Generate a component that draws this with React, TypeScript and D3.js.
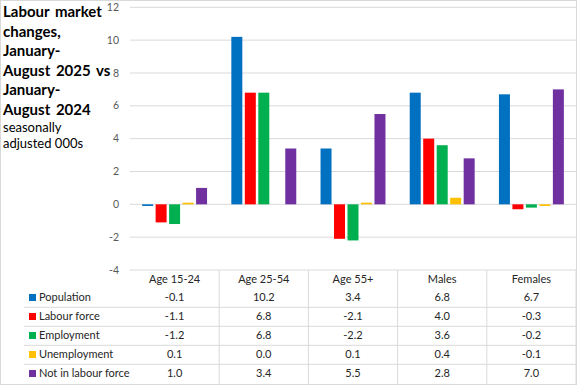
import React from "react";
import * as d3 from "d3";

// chart data
const categories = ["Age 15-24", "Age 25-54", "Age 55+", "Males", "Females"];
const seriesNames = ["Population", "Labour force", "Employment", "Unemployment", "Not in labour force"];
const population = [-0.1, 10.2, 3.4, 6.8, 6.7];
const labourForce = [-1.1, 6.8, -2.1, 4.0, -0.3];
const employment = [-1.2, 6.8, -2.2, 3.6, -0.2];
const unemployment = [0.1, 0.0, 0.1, 0.4, -0.1];
const notInLabourForce = [1.0, 3.4, 5.5, 2.8, 7.0];
const yTicks = [-4, -2, 0, 2, 4, 6, 8, 10, 12];
const titleLines = ["Labour market", "changes,", "January-", "August 2025 vs", "January-", "August 2024"];
const subtitleLines = ["seasonally", "adjusted 000s"];

const colors = ["#0070C0", "#FF0000", "#00B050", "#FFC000", "#7030A0"];
const seriesValues = [population, labourForce, employment, unemployment, notInLabourForce];

const W = 577;
const H = 385;
const FONT = "Lato, 'Liberation Sans', sans-serif";
const GRID = "#d9d9d9";

export default function App() {
  const left = 130;
  const right = 576;
  const top = 7.3;
  const bottom = 270;

  const x0 = d3.scaleBand<string>().domain(categories).range([left, right]).paddingInner(0).paddingOuter(0);
  const x1 = d3
    .scaleBand<string>()
    .domain(seriesNames)
    .range([0, x0.bandwidth()])
    .paddingInner(0.185)
    .paddingOuter(0.9);
  const y = d3.scaleLinear().domain([-4, 12]).range([bottom, top]);

  const headerY = 279;
  const rowY = d3.scaleLinear().domain([0, 1]).range([297.5, 316.5]);
  const rowLineY = (i: number) => rowY(i) + 9.8;

  return (
    <svg
      width={W}
      height={H}
      style={{ position: "absolute", left: 0, top: 0, background: "#fff" }}
      fontFamily={FONT}
    >
      <rect x={0.5} y={0.5} width={W - 1} height={H - 1} fill="#fff" stroke={GRID} />

      {/* title */}
      <g>
        {titleLines.map((t, i) => (
          <text
            key={t + i}
            x={3}
            y={17.3 + i * 19.5}
            fontSize={15}
            fontWeight={700}
            wordSpacing={2}
            fill="#000"
          >
            {t}
          </text>
        ))}
        {subtitleLines.map((t, i) => (
          <text key={t} x={3} y={131.7 + i * 16} fontSize={13} fill="#000">
            {t}
          </text>
        ))}
      </g>

      {/* gridlines and y labels */}
      {yTicks.map((t) => (
        <g key={t}>
          <line x1={left} x2={right} y1={y(t)} y2={y(t)} stroke={GRID} strokeWidth={1} />
          <text x={119} y={y(t)} dy="0.35em" textAnchor="end" fontSize={10.5} fill="#595959">
            {t}
          </text>
        </g>
      ))}

      {/* bars */}
      {categories.map((c, ci) => (
        <g key={c} transform={`translate(${x0(c)},0)`}>
          {seriesNames.map((s, si) => {
            const v = seriesValues[si][ci];
            return (
              <rect
                key={s}
                x={x1(s)}
                width={x1.bandwidth()}
                y={Math.min(y(v), y(0))}
                height={Math.abs(y(v) - y(0))}
                fill={colors[si]}
              />
            );
          })}
        </g>
      ))}

      {/* data table */}
      <g>
        {categories.map((c) => (
          <g key={c}>
            <line
              x1={(x0(c) as number) + x0.bandwidth()}
              x2={(x0(c) as number) + x0.bandwidth()}
              y1={bottom}
              y2={H}
              stroke={GRID}
            />
            <text
              x={(x0(c) as number) + x0.bandwidth() / 2}
              y={headerY}
              dy="0.35em"
              textAnchor="middle"
              fontSize={11}
              fill="#262626"
            >
              {c}
            </text>
          </g>
        ))}
        {seriesNames.map((s, si) => (
          <g key={s}>
            {si < seriesNames.length - 1 && (
              <line x1={24} x2={right} y1={rowLineY(si)} y2={rowLineY(si)} stroke={GRID} />
            )}
            <rect x={29} y={rowY(si) - 3.5} width={7} height={7} fill={colors[si]} />
            <text x={39} y={rowY(si)} dy="0.35em" fontSize={11} fill="#262626">
              {s}
            </text>
            {categories.map((c, ci) => (
              <text
                key={c}
                x={(x0(c) as number) + x0.bandwidth() / 2}
                y={rowY(si)}
                dy="0.35em"
                textAnchor="middle"
                fontSize={11}
                fill="#262626"
              >
                {seriesValues[si][ci].toFixed(1)}
              </text>
            ))}
          </g>
        ))}
      </g>
    </svg>
  );
}
